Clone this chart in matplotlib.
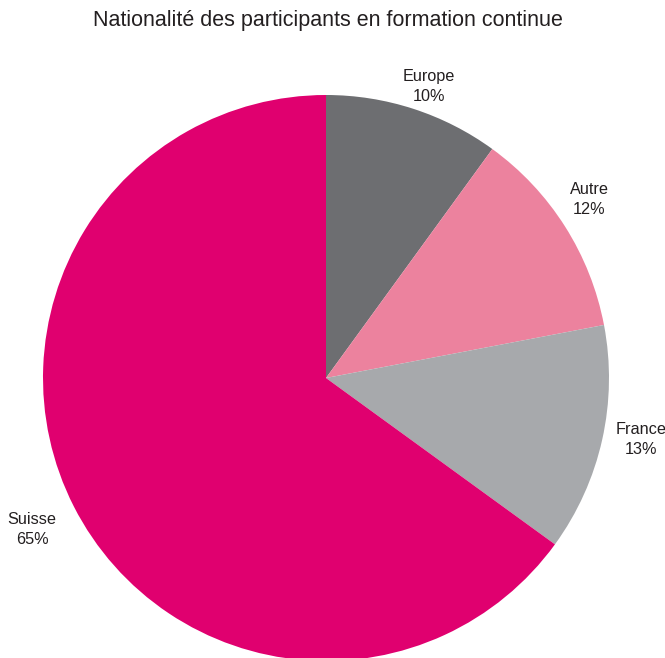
import matplotlib
matplotlib.use("Agg")
import matplotlib.pyplot as plt
import numpy as np

categories = ["Europe", "Autre", "France", "Suisse"]
values = [10, 12, 13, 65]
colors = ["#6d6e71", "#ec829e", "#a7a9ac", "#e0006f"]
label_dist = [1.092, 1.124, 1.134, 1.168]
label_shift = [-1.5, 1.8, 1.6, 0.2]

plt.rcParams['font.family'] = ['Liberation Sans', 'DejaVu Sans']

fig = plt.figure(figsize=(6.65, 6.58), dpi=100)
ax = fig.add_axes([43/665, -3/658, 566/665, 566/658])
wedges, _ = ax.pie(values, colors=colors, startangle=90, counterclock=False,
                   radius=1.0, wedgeprops=dict(linewidth=0))
for w, cat, v, d, s in zip(wedges, categories, values, label_dist, label_shift):
    ang = np.deg2rad((w.theta1 + w.theta2) / 2 + s)
    ax.text(d * np.cos(ang), d * np.sin(ang), f"{cat}\n{v}%", ha="center", va="center",
            fontsize=11.7, color="#231f20", linespacing=1.43)
ax.set_xlim(-1, 1)
ax.set_ylim(-1, 1)
ax.set_aspect("equal")
ax.axis("off")
fig.text(327.5/665, 1 - 20.5/658, "Nationalité des participants en formation continue",
         ha="center", va="center", fontsize=15.5, color="#231f20")
fig.savefig("out.png", dpi=100)
